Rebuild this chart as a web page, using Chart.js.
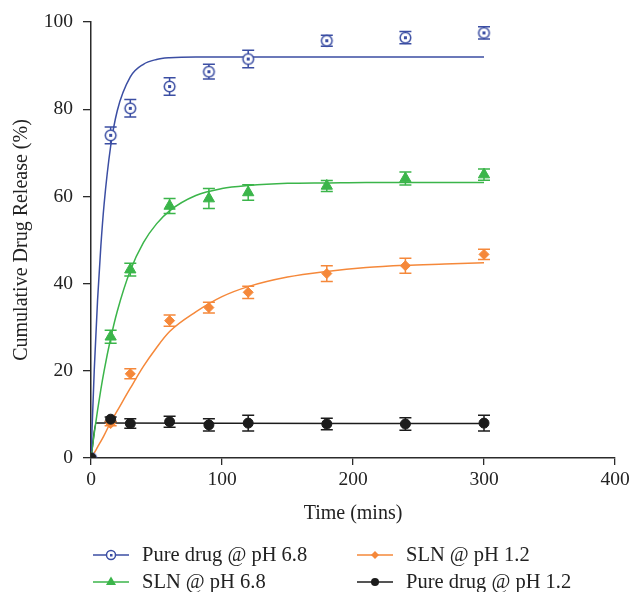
<!DOCTYPE html>
<html>
<head>
<meta charset="utf-8">
<script src="https://cdn.jsdelivr.net/npm/chart.js"></script>
<style>
  html, body { margin: 0; padding: 0; background: #fff; }
</style>
</head>
<body>
<canvas id="releaseChart" width="629" height="592"></canvas>
<script>
// sampling times (mins) and measured release (%) with error bars
const times = [0, 15, 30, 60, 90, 120, 180, 240, 300];
const pureDrug68 = [0, 74.0, 80.2, 85.2, 88.6, 91.5, 95.7, 96.4, 97.5];
const pureDrug68Err = [0, 1.9, 2.0, 2.0, 1.7, 2.0, 1.25, 1.4, 1.4];
const sln68 = [0, 27.8, 43.2, 57.8, 59.5, 60.9, 62.4, 64.1, 65.0];
const sln68Err = [0, 1.5, 1.45, 1.7, 2.3, 1.8, 1.25, 1.5, 1.3];
const sln12 = [0, 7.9, 19.3, 31.5, 34.5, 38.0, 42.3, 44.1, 46.7];
const sln12Err = [0, 0.5, 1.15, 1.3, 1.25, 1.4, 1.8, 1.7, 1.15];
const pureDrug12 = [0, 8.9, 7.9, 8.3, 7.6, 8.0, 7.8, 7.8, 8.0];
const pureDrug12Err = [0, 0.5, 1.1, 1.25, 1.4, 1.8, 1.3, 1.45, 1.8];

// fitted curves
const fitTimes = [0, 2.5, 5, 7.5, 10, 15, 20, 30, 40, 50, 60, 80, 100, 120, 150, 180, 210, 240, 270, 300];
const pureDrug68Fit = [0, 20.3, 36.2, 48.5, 58.2, 71.5, 79.6, 87.4, 90.3, 91.4, 91.8, 92.0, 92.0, 92.0, 92.0, 92.0, 92.0, 92.0, 92.0, 92.0];
const sln68Fit = [0, 5.7, 10.9, 15.7, 20.0, 27.4, 33.6, 43.0, 49.4, 53.7, 56.7, 60.2, 61.8, 62.5, 63.0, 63.1, 63.2, 63.2, 63.2, 63.2];
const sln12Fit = [0, 1.2, 2.5, 3.8, 5.2, 8.2, 10.8, 16.0, 21.0, 25.3, 29.0, 33.5, 37.0, 39.3, 41.5, 42.8, 43.7, 44.2, 44.5, 44.8];
const pureDrug12FitTimes = [0, 4, 300];
const pureDrug12Fit = [0, 8.0, 7.9];

const xTicks = [0, 100, 200, 300, 400];
const yTicks = [0, 20, 40, 60, 80, 100];

const FONT = "'Liberation Serif', 'Times New Roman', serif";
const BLUE = '#3b4ea3';
const GREEN = '#3bb54a';
const ORANGE = '#f5883a';
const BLACK = '#1c1c1c';
const AXIS = '#2b2b2b';

function pairs(xs, ys) {
  return xs.map((x, i) => ({ x: x, y: ys[i] }));
}

function makeRing(r, color) {
  const c = document.createElement('canvas');
  const s = Math.ceil(r * 2 + 4);
  c.width = s; c.height = s;
  const g = c.getContext('2d');
  g.beginPath();
  g.arc(s / 2, s / 2, r, 0, Math.PI * 2);
  g.fillStyle = '#fff';
  g.fill();
  g.lineWidth = 1.5;
  g.strokeStyle = color;
  g.stroke();
  g.fillStyle = color;
  g.fillRect(s / 2 - 1.5, s / 2 - 1.5, 3, 3);
  return c;
}

function fitSet(xs, ys, color, tension) {
  return {
    type: 'line',
    data: pairs(xs, ys),
    borderColor: color,
    borderWidth: 1.5,
    pointRadius: 0,
    fill: false,
    tension: tension,
    cubicInterpolationMode: 'monotone',
    order: 10
  };
}

function pointSet(ys, errs, color, style, r) {
  return {
    type: 'scatter',
    data: pairs(times, ys),
    errors: errs,
    showLine: false,
    pointStyle: style,
    pointRadius: r,
    pointBackgroundColor: color,
    pointBorderColor: color,
    pointBorderWidth: 1,
    order: 1
  };
}

// vertical error bars with caps, under the markers
const errorBars = {
  id: 'errorBars',
  beforeDatasetsDraw(chart) {
    const ctx = chart.ctx;
    const xs = chart.scales.x, ys = chart.scales.y;
    chart.data.datasets.forEach(ds => {
      if (!ds.errors) return;
      ctx.save();
      ctx.strokeStyle = ds.pointBorderColor;
      ctx.lineWidth = 1.5;
      ds.data.forEach((p, i) => {
        const e = ds.errors[i];
        if (!e) return;
        const px = xs.getPixelForValue(p.x);
        const top = ys.getPixelForValue(p.y + e);
        const bot = ys.getPixelForValue(p.y - e);
        ctx.beginPath();
        ctx.moveTo(px, top); ctx.lineTo(px, bot);
        ctx.moveTo(px - 6, top); ctx.lineTo(px + 6, top);
        ctx.moveTo(px - 6, bot); ctx.lineTo(px + 6, bot);
        ctx.stroke();
      });
      ctx.restore();
    });
  }
};

// legend below the plot: line sample with marker in the middle
const legendItems = [
  { label: 'Pure drug @ pH 6.8', color: BLUE, marker: 'ring', col: 0, row: 0 },
  { label: 'SLN @ pH 6.8', color: GREEN, marker: 'triangle', col: 0, row: 1 },
  { label: 'SLN @ pH 1.2', color: ORANGE, marker: 'diamond', col: 1, row: 0 },
  { label: 'Pure drug @ pH 1.2', color: BLACK, marker: 'dot', col: 1, row: 1 }
];

const sampleLegend = {
  id: 'sampleLegend',
  afterDraw(chart) {
    const ctx = chart.ctx;
    const colX = [93, 357];
    const rowY = [555, 582];
    ctx.save();
    legendItems.forEach(it => {
      const x = colX[it.col], y = rowY[it.row];
      ctx.strokeStyle = it.color;
      ctx.fillStyle = it.color;
      ctx.lineWidth = 1.5;
      ctx.beginPath();
      ctx.moveTo(x, y); ctx.lineTo(x + 36, y);
      ctx.stroke();
      const cx = x + 18;
      ctx.beginPath();
      if (it.marker === 'ring') {
        ctx.arc(cx, y, 4.5, 0, Math.PI * 2);
        ctx.fillStyle = '#fff';
        ctx.fill();
        ctx.stroke();
        ctx.fillStyle = it.color;
        ctx.fillRect(cx - 1, y - 1, 2.5, 2.5);
      } else if (it.marker === 'triangle') {
        ctx.moveTo(cx, y - 5.5);
        ctx.lineTo(cx + 5, y + 3);
        ctx.lineTo(cx - 5, y + 3);
        ctx.closePath();
        ctx.fill();
      } else if (it.marker === 'diamond') {
        ctx.moveTo(cx, y - 4);
        ctx.lineTo(cx + 4, y);
        ctx.lineTo(cx, y + 4);
        ctx.lineTo(cx - 4, y);
        ctx.closePath();
        ctx.fill();
      } else {
        ctx.arc(cx, y, 4, 0, Math.PI * 2);
        ctx.fill();
      }
      ctx.fillStyle = '#222';
      ctx.font = '20.5px ' + FONT;
      ctx.textBaseline = 'middle';
      ctx.textAlign = 'left';
      ctx.fillText(it.label, x + 49, y + 1);
    });
    ctx.restore();
  }
};

new Chart(document.getElementById('releaseChart'), {
  data: {
    datasets: [
      fitSet(fitTimes, pureDrug68Fit, BLUE, 0.4),
      fitSet(fitTimes, sln68Fit, GREEN, 0.4),
      fitSet(fitTimes, sln12Fit, ORANGE, 0.4),
      fitSet(pureDrug12FitTimes, pureDrug12Fit, BLACK, 0),
      pointSet(pureDrug12, pureDrug12Err, BLACK, 'circle', 5),
      pointSet(sln12, sln12Err, ORANGE, 'rectRot', 5),
      pointSet(sln68, sln68Err, GREEN, 'triangle', 6.5),
      pointSet(pureDrug68, pureDrug68Err, BLUE, makeRing(5.3, BLUE), 5)
    ]
  },
  options: {
    responsive: false,
    animation: false,
    layout: { padding: { top: 22, right: 14, bottom: 66, left: 0 } },
    plugins: { legend: { display: false }, tooltip: { enabled: false } },
    scales: {
      x: {
        type: 'linear', min: 0, max: 400,
        afterBuildTicks: s => { s.ticks = xTicks.map(v => ({ value: v })); },
        ticks: { color: '#222', font: { family: FONT, size: 19.5 }, padding: 3, maxRotation: 0 },
        grid: { drawOnChartArea: false, drawTicks: true, tickLength: 7, color: AXIS, lineWidth: 1.3 },
        border: { display: true, color: AXIS, width: 1.5 },
        title: { display: true, text: 'Time (mins)', color: '#222', font: { family: FONT, size: 20 }, padding: { top: 4, bottom: 0 } },
        afterFit: s => { s.height = 68; s.paddingRight = 0; s.paddingLeft = 0; }
      },
      y: {
        type: 'linear', min: 0, max: 100,
        afterBuildTicks: s => { s.ticks = yTicks.map(v => ({ value: v })); },
        ticks: { color: '#222', font: { family: FONT, size: 19.5 }, padding: 10 },
        grid: { drawOnChartArea: false, drawTicks: true, tickLength: 8, color: AXIS, lineWidth: 1.3 },
        border: { display: true, color: AXIS, width: 1.5 },
        title: { display: true, text: 'Cumulative Drug Release (%)', color: '#222', font: { family: FONT, size: 20 }, padding: { top: 10, bottom: 0 } },
        afterFit: s => { s.width = 91; }
      }
    }
  },
  plugins: [errorBars, sampleLegend]
});
</script>
</body>
</html>
